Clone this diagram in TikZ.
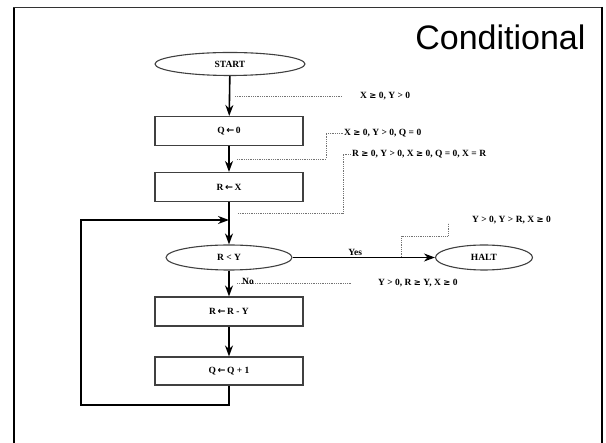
\documentclass[tikz,border=0pt]{standalone}
\usepackage{fontspec}
\setmainfont{Liberation Serif}
\newfontfamily\titlefont{Liberation Sans}
\newfontfamily\symfont{DejaVu Sans}
\usetikzlibrary{shapes.geometric,arrows.meta}

% heavy glyphs for assignment and comparison
\newcommand\assign{\,{\symfont\bfseries ←}\,}
\newcommand\atleast{{\symfont\bfseries\fontsize{8.5}{10}\selectfont ≥}}

\begin{document}
\begin{tikzpicture}[x=1pt,y=-1pt,
    txt/.style={font=\fontsize{9.5}{11}\selectfont\bfseries,inner sep=1pt},
    box/.style={txt,draw=black!75,line width=1.1pt,minimum width=148pt,minimum height=29pt},
    oval/.style={txt,ellipse,draw=black!75,line width=1.1pt,inner sep=0pt},
    flow/.style={-{Stealth[length=11pt,width=8pt]},line width=1.6pt},
    note/.style={densely dotted,black!55,line width=0.8pt}]
    \useasboundingbox (0,0) rectangle (606,443);

    % slide frame, open at the bottom
    \draw[line width=2.5pt](14,443)--(14,7.5);
    \draw[line width=1.6pt,black!80](13,7.5)--(602,7.5);
    \draw[line width=2pt](601.5,7)--(601.5,443);
    \node[font=\titlefont\fontsize{34}{40}\selectfont,anchor=base east] (title) at (589,50) {Conditional};

    % flowchart
    \node[oval,minimum width=150pt,minimum height=23pt] (start) at (230,64) {START};
    \node[box] (q0) at (229,131) {Q\assign 0};
    \node[box] (rx) at (229,187) {R\assign X};
    \coordinate (merge) at (229,220);
    \node[oval,minimum width=126pt,minimum height=25pt] (test) at (229,257.5) {R < Y};
    \node[oval,minimum width=97pt,minimum height=25pt] (halt) at (484,257.5) {HALT};
    \node[box] (sub) at (229,311.5) {R\assign R - Y};
    \node[box,minimum height=28pt] (inc) at (229,371) {Q\assign Q + 1};
    \coordinate (corner) at (81,405);

    \draw[flow](start)--(q0);
    \draw[flow](q0)--(rx);
    \draw[line width=1.6pt](rx.south)--(merge);
    \draw[flow](merge)--(test);
    \draw[flow](test)--node[txt,above,pos=0.44]{Yes}(halt);
    \draw[flow](test)--(sub);
    \draw[flow](sub)--(inc);
    \draw[flow](inc.south)|-(corner)|-(merge);

    % assertions
    \coordinate (p1) at (235,96);
    \coordinate (p2) at (237,159);
    \coordinate (p3) at (238,213);
    \coordinate (p4) at (401,257);
    \coordinate (p5) at (237,283);
    \node[txt,anchor=west] (inv1) at (359,96) {X \atleast{} 0, Y > 0};
    \node[txt,anchor=west] (inv2) at (343,133) {X \atleast{} 0, Y > 0, Q = 0};
    \node[txt,anchor=west] (inv3) at (351,154) {R \atleast{} 0, Y > 0, X \atleast{} 0, Q = 0, X = R};
    \node[txt,anchor=west] (inv4) at (471,220) {Y > 0, Y > R, X \atleast{} 0};
    \node[txt,anchor=west] (inv5) at (377,283) {Y > 0, R \atleast{} Y, X \atleast{} 0};

    \draw[note](p1)--(342,96);
    \draw[note](p2)-|(326,133)--(inv2.west);
    \draw[note](p3)-|(343,154)--(inv3.west);
    \draw[note](p4)|-(448,236)--(448,223);
    \draw[note](p5)--(351,283);
    \node[txt] (no) at (248,281) {No};
\end{tikzpicture}
\end{document}
